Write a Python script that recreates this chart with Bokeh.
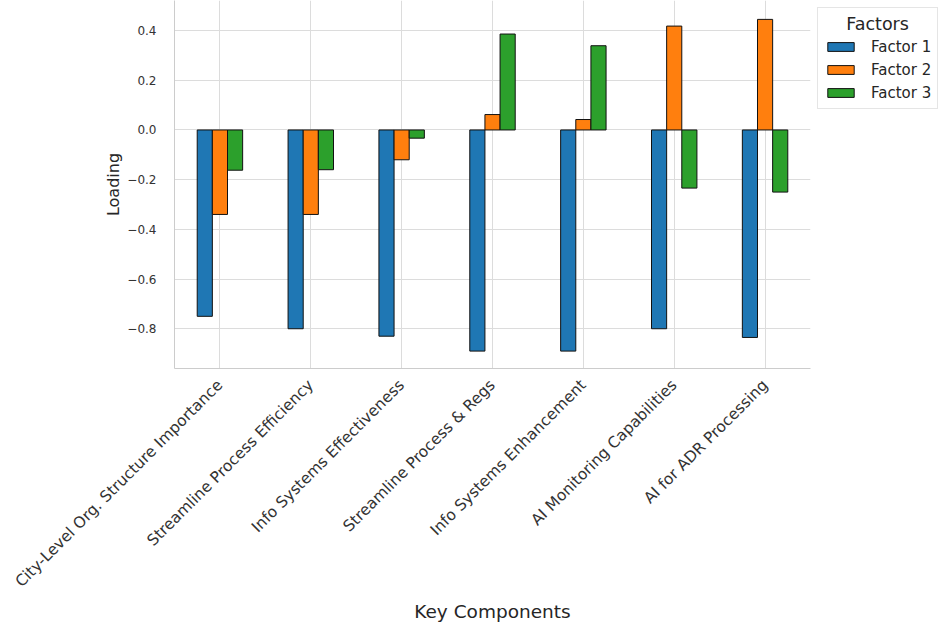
import math
from bokeh.plotting import figure
from bokeh.models import (ColumnDataSource, FactorRange, Range1d, FixedTicker, Legend, LegendItem,
                          CustomJSTickFormatter)
from bokeh.transform import dodge
from bokeh.embed import file_html
from bokeh.resources import INLINE

categories = ["City-Level Org. Structure Importance", "Streamline Process Efficiency",
              "Info Systems Effectiveness", "Streamline Process & Regs",
              "Info Systems Enhancement", "AI Monitoring Capabilities", "AI for ADR Processing"]
factor1 = [-0.75, -0.80, -0.83, -0.89, -0.89, -0.80, -0.835]
factor2 = [-0.34, -0.34, -0.12, 0.062, 0.042, 0.418, 0.445]
factor3 = [-0.162, -0.16, -0.033, 0.386, 0.339, -0.234, -0.25]
series_names = ["Factor 1", "Factor 2", "Factor 3"]
y_ticks = [-0.8, -0.6, -0.4, -0.2, 0.0, 0.2, 0.4]

colors = ["#1f77b4", "#ff7f0e", "#2ca02c"]
FONT = "DejaVu Sans"
TEXT = "#262626"

src = ColumnDataSource(dict(cat=categories, f1=factor1, f2=factor2, f3=factor3))

p = figure(frame_width=636, frame_height=368, output_backend="svg", toolbar_location=None,
           x_range=FactorRange(factors=categories, range_padding=0),
           y_range=Range1d(-0.96, 0.521),
           min_border_left=174, min_border_top=0, min_border_right=0, min_border_bottom=0)

bw = 1 / 6
renderers = []
for i, (col, c) in enumerate(zip(["f1", "f2", "f3"], colors)):
    r = p.vbar(x=dodge("cat", (i - 1) * bw, range=p.x_range), top=col, bottom=0, width=bw,
               source=src, fill_color=c, line_color="#111111", line_width=1)
    renderers.append(r)

legend = Legend(items=[LegendItem(label=n, renderers=[r]) for n, r in zip(series_names, renderers)],
                title="\u00a0\u00a0\u00a0\u00a0Factors", location="top_left")
legend.title_text_font = FONT
legend.title_text_font_size = "17.5px"
legend.title_text_font_style = "normal"
legend.title_text_color = TEXT
legend.title_standoff = 3
legend.label_text_font = FONT
legend.label_text_font_size = "15px"
legend.label_text_color = TEXT
legend.glyph_width = 33
legend.glyph_height = 11
legend.label_standoff = 14
legend.label_height = 19
legend.spacing = 4
legend.padding = 6
legend.margin = 7
legend.border_line_color = "#cccccc"
legend.border_line_width = 1
legend.background_fill_alpha = 1
p.add_layout(legend, "right")

p.outline_line_color = None
p.background_fill_color = "white"

p.xgrid.grid_line_color = "#dcdcdc"
p.ygrid.grid_line_color = "#dcdcdc"
p.xgrid.grid_line_width = 1
p.ygrid.grid_line_width = 1
p.yaxis.ticker = FixedTicker(ticks=y_ticks)
p.yaxis.formatter = CustomJSTickFormatter(code="return tick.toFixed(1).replace('-', '\u2212');")

for ax in (p.xaxis[0], p.yaxis[0]):
    ax.axis_line_color = "#cccccc"
    ax.axis_line_width = 1
    ax.major_tick_line_color = None
    ax.minor_tick_line_color = None
    ax.major_label_text_font = FONT
    ax.major_label_text_color = "#333333"
    ax.axis_label_text_font = FONT
    ax.axis_label_text_font_style = "normal"
    ax.axis_label_text_color = TEXT

p.xaxis.major_label_text_font_size = "15.5px"
p.yaxis.major_label_text_font_size = "12px"
p.xaxis.axis_label_text_font_size = "18.5px"
p.yaxis.axis_label_text_font_size = "16px"
p.xaxis.axis_label = "Key Components"
p.yaxis.axis_label = "Loading"
p.xaxis.major_label_orientation = math.pi / 4
p.xaxis.major_label_standoff = 8
p.yaxis.major_label_standoff = 12
p.xaxis.axis_label_standoff = 1
p.yaxis.axis_label_standoff = 1

open("out.html", "w").write(file_html(p, INLINE))
